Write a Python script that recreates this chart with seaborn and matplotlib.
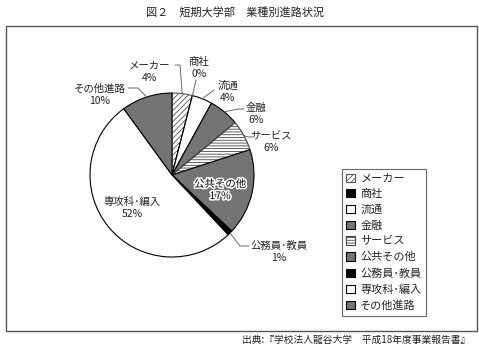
import numpy as np
import matplotlib
matplotlib.use("Agg")
import matplotlib.pyplot as plt
import matplotlib.patheffects as pe
from matplotlib.patches import Rectangle
import seaborn as sns

# ---- data ----
categories = ["メーカー", "商社", "流通", "金融", "サービス", "公共その他", "公務員･教員", "専攻科･編入", "その他進路"]
values = [4, 0, 4, 6, 6, 17, 1, 52, 10]
title = "図２　短期大学部　業種別進路状況"
source = "出典:『学校法人龍谷大学　平成18年度事業報告書』"

sns.set_theme(style="white")
plt.rcParams["font.family"] = ["Noto Sans CJK JP", "DejaVu Sans"]
plt.rcParams["hatch.linewidth"] = 0.6

W, H = 479, 346
fig = plt.figure(figsize=(W / 100, H / 100), dpi=100)
ax = fig.add_axes([0, 0, 1, 1])

def P(x, y):
    return (x, H - y)

dark = "#747474"
faces = ["white", "black", "white", dark, "white", dark, "black", "white", dark]
hatches = ["//////", None, None, None, "------", None, None, None, None]
hcol = ["#555555", "black", "black", "black", "#444444", "black", "black", "black", "black"]

cx, cy, R = 172, 175, 82
wedges, _ = ax.pie(values, startangle=90, counterclock=False, center=P(cx, cy),
                   radius=R, colors=faces,
                   wedgeprops=dict(edgecolor="black", linewidth=0.8))
for w, h, c in zip(wedges, hatches, hcol):
    if h:
        w.set_hatch(h)
        w.set_edgecolor(c)
ax.set_xlim(0, W)
ax.set_ylim(0, H)
ax.set_aspect("auto")
ax.axis("off")

fs = 7.5
def edge_point(w, frac=1.0):
    a = np.deg2rad((w.theta1 + w.theta2) / 2)
    x0, y0 = w.center
    return (x0 + frac * w.r * np.cos(a), y0 + frac * w.r * np.sin(a))

labels = [f"{c}\n{v}%" for c, v in zip(categories, values)]
# label text centers (pixel layout) and leader starting points
layout = {
    0: ((150, 72), [(175, 65), (180, 65)]),
    1: ((199, 68), [(196, 80)]),
    2: ((228, 92), [(214, 90)]),
    3: ((256, 114), [(244, 109), (238, 109)]),
    4: ((271, 142), [(254, 137), (248, 137)]),
    6: ((279, 252), [(249, 246), (240, 246)]),
    8: ((100, 95), [(128, 88), (138, 88)]),
}
for i, (tpos, pts) in layout.items():
    ax.text(*P(*tpos), labels[i], ha="center", va="center", fontsize=fs,
            linespacing=1.25, color="#222222")
    xs = [P(*p)[0] for p in pts]
    ys = [P(*p)[1] for p in pts]
    ex, ey = edge_point(wedges[i])
    ax.plot(xs + [ex], ys + [ey], color="#666666", lw=0.7)

# inside labels
ax.text(*P(220, 190), labels[5], ha="center", va="center", fontsize=fs,
        linespacing=1.25, color="black",
        path_effects=[pe.withStroke(linewidth=2.2, foreground="white")])
ax.text(*P(132, 208), labels[7], ha="center", va="center", fontsize=fs,
        linespacing=1.25, color="#222222")

# legend
leg = ax.legend(wedges, categories, loc="upper left",
                bbox_to_anchor=(342 / W, 1 - 169 / H), bbox_transform=fig.transFigure,
                fontsize=8, frameon=True, fancybox=False, borderpad=0.4,
                handlelength=0.75, handleheight=0.75, handletextpad=0.5,
                labelspacing=0.5, borderaxespad=0)
leg.get_frame().set_edgecolor("#444444")
leg.get_frame().set_linewidth(0.8)

# outer frame
fig.patches.append(Rectangle((6 / W, 1 - 331 / H), (477 - 6) / W, (331 - 26) / H,
                             transform=fig.transFigure, fill=False,
                             edgecolor="#555555", linewidth=1.0))

fig.text(235 / W, 1 - 12 / H, title, ha="center", va="center", fontsize=8, color="#222222")
fig.text(356 / W, 1 - 340 / H, source, ha="center", va="center", fontsize=7, color="#222222")

fig.savefig("out.png", dpi=100)
